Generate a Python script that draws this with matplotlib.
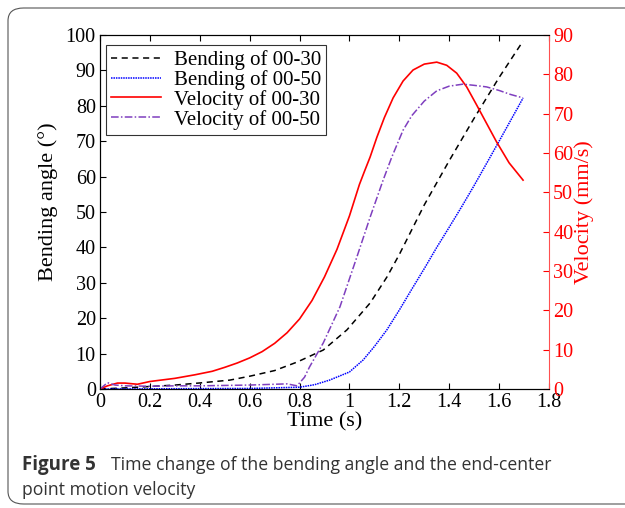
import matplotlib.pyplot as plt
from matplotlib.patches import FancyBboxPatch

# bending angle (deg)
bend30_t = [0, 0.1, 0.2, 0.3, 0.4, 0.52, 0.6, 0.7, 0.79, 0.895, 0.99, 1.083, 1.15, 1.2,
            1.3, 1.4, 1.5, 1.6, 1.696]
bend30 = [0, 0.3, 0.7, 1.1, 1.7, 2.5, 3.6, 5.2, 7.6, 11.0, 16.7, 24.3, 31.6, 38,
          52, 64.5, 76.5, 88, 98.3]

bend50_t = [0, 0.2, 0.4, 0.6, 0.8, 0.86, 0.92, 1.0, 1.055, 1.1, 1.15, 1.2, 1.25, 1.3,
            1.35, 1.4, 1.45, 1.5, 1.6, 1.696]
bend50 = [0, 0.05, 0.1, 0.15, 0.5, 1.2, 2.5, 4.8, 8.2, 12, 16.7, 22.3, 28.2, 34,
          40, 45.7, 51.5, 57.5, 70, 82.2]

# velocity (mm/s)
vel30_t = [0, 0.03, 0.07, 0.1, 0.15, 0.2, 0.25, 0.3, 0.38, 0.45, 0.5, 0.55, 0.6, 0.65,
           0.7, 0.75, 0.8, 0.85, 0.9, 0.95, 1.0, 1.04, 1.06, 1.083, 1.11, 1.14, 1.175,
           1.215, 1.255, 1.3, 1.35, 1.39, 1.43, 1.47, 1.51, 1.55, 1.59, 1.64, 1.696]
vel30 = [0, 0.8, 1.5, 1.5, 1.2, 1.9, 2.3, 2.7, 3.6, 4.5, 5.5, 6.6, 7.9, 9.5,
         11.6, 14.3, 17.8, 22.5, 28.5, 35.5, 44, 52, 55.3, 59, 64, 69, 74,
         78.3, 81.1, 82.6, 83.1, 82.3, 80.3, 76.8, 72.2, 67.5, 62.8, 57.5, 53.1]

vel50_t = [0, 0.03, 0.06, 0.1, 0.2, 0.3, 0.4, 0.5, 0.6, 0.7, 0.75, 0.79, 0.82, 0.84,
           0.895, 0.962, 1.03, 1.083, 1.135, 1.17, 1.215, 1.25, 1.3, 1.35, 1.4, 1.455,
           1.5, 1.55, 1.6, 1.645, 1.696]
vel50 = [0, 1.6, 1.0, 0.8, 0.7, 0.8, 0.8, 0.9, 1.0, 1.2, 1.3, 0.8, 3.0, 5.6,
         11.7, 20.9, 33.6, 43.7, 53.1, 59, 65.8, 69.5, 73.2, 75.8, 77.0, 77.5,
         77.2, 76.8, 75.9, 74.9, 74]

x_ticks = [0, 0.2, 0.4, 0.6, 0.8, 1, 1.2, 1.4, 1.6, 1.8]
x_tick_labels = ["0", "0.2", "0.4", "0.6", "0.8", "1", "1.2", "1.4", "1.6", "1.8"]

SERIF = "Liberation Serif"
RED = "#ff0000"
CAPTION = "#333333"

fig = plt.figure(figsize=(6.25, 5.08), dpi=100)
ax = fig.add_axes([0.16, 0.2343, 0.7184, 0.6968])
ax2 = ax.twinx()

(l1,) = ax.plot(bend30_t, bend30, color="black", ls=(0, (4, 3)), lw=1.1, label="Bending of 00-30")
(l2,) = ax.plot(bend50_t, bend50, color="blue", ls=(0, (1, 0.6)), lw=1.1, label="Bending of 00-50")
(l3,) = ax2.plot(vel30_t, vel30, color=RED, lw=1.2, label="Velocity of 00-30")
(l4,) = ax2.plot(vel50_t, vel50, color="#7f3fbf", ls=(0, (5, 1.5, 1, 1.5)), lw=1.1,
                 label="Velocity of 00-50")

ax.set_xlim(0, 1.8)
ax.set_ylim(0, 100)
ax2.set_ylim(0, 90)
ax.set_xticks(x_ticks)
ax.set_xticklabels(x_tick_labels)
ax.set_yticks(range(0, 101, 10))
ax2.set_yticks(range(0, 91, 10))

ax.tick_params(direction="in", labelsize=14.5, length=4, top=True, right=False, pad=3)
ax2.tick_params(direction="in", labelsize=14.5, length=4, colors=RED, pad=3)
for lab in ax.get_xticklabels() + ax.get_yticklabels() + ax2.get_yticklabels():
    lab.set_family(SERIF)
ax2.spines["right"].set_color("#ff5050")
ax.spines["right"].set_visible(False)

ax.set_xlabel("Time (s)", family=SERIF, fontsize=16, labelpad=0)
ax.set_ylabel("Bending angle (\u00b0)", family=SERIF, fontsize=16)
ax.yaxis.set_label_coords(-0.094, 0.53)
ax2.set_ylabel("Velocity (mm/s)", family=SERIF, fontsize=16, color=RED, labelpad=1)

leg = ax2.legend(handles=[l1, l2, l3, l4], loc="upper left", bbox_to_anchor=(0.0, 0.99),
                 prop={"family": SERIF, "size": 15}, frameon=True, fancybox=False,
                 handlelength=2.4, borderpad=0.25, labelspacing=0.0, handletextpad=0.6,
                 borderaxespad=0.3)
leg.get_frame().set_edgecolor("black")
leg.get_frame().set_linewidth(0.8)

# caption and the rounded frame around the figure
base1 = 1 - 470 / 508
base2 = 1 - 495 / 508
fig.text(22 / 625, base1, "Figure 5", fontsize=13.5, family="Open Sans", weight="bold",
         color=CAPTION, va="baseline")
fig.text(111 / 625, base1, "Time change of the bending angle and the end-center",
         fontsize=12.7, family="Open Sans", color=CAPTION, va="baseline")
fig.text(22 / 625, base2, "point motion velocity",
         fontsize=12.7, family="Open Sans", color=CAPTION, va="baseline")

frame = FancyBboxPatch((8 / 625, 4 / 508), 1.2, 1 - 12 / 508,
                       boxstyle="round,pad=0,rounding_size=0.025",
                       transform=fig.transFigure, fill=False, edgecolor="#555555",
                       lw=0.8, clip_on=False)
fig.patches.append(frame)

fig.savefig("out.png", dpi=100)
